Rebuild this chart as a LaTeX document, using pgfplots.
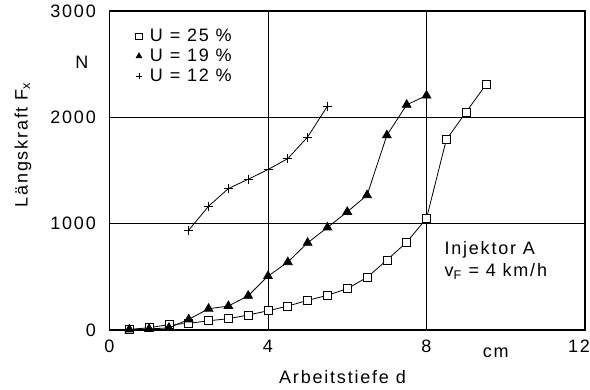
\documentclass[border=0pt]{standalone}
\usepackage{fontspec}
\setmainfont[LetterSpace=10]{Liberation Sans}
\usepackage{pgfplots}
\pgfplotsset{compat=1.18}
\newcommand\F{\fontsize{18bp}{21bp}\selectfont}
\begin{document}
\begin{tikzpicture}
\begin{axis}[
  name=ax,
  scale only axis,
  width=475.5bp, height=319bp,
  xmin=0, xmax=12, ymin=0, ymax=3000,
  xtick={0,4,8,12}, ytick={0,1000,2000,3000},
  xticklabels={0,4,8,12\hspace*{12bp}},
  grid=major,
  clip mode=individual,
  major grid style={black, line width=0.9bp},
  axis line style={black, line width=1.2bp},
  major tick length=0pt,
  /pgf/number format/assume math mode=true,
  /pgf/number format/1000 sep={},
  tick label style={font=\F, inner sep=0pt},
  xticklabel style={anchor=north, yshift=-10bp},
  yticklabel style={anchor=east, xshift=-13.5bp},
  legend style={at={(rel axis cs:0.049,0.947)}, anchor=north west, draw=none, fill=none, font=\F, row sep=4bp, inner sep=0pt,
    nodes={inner sep=1bp}},
  legend cell align=left,
  legend image code/.code={\path[draw=none] (0bp,0bp) -- (16bp,0bp); \draw[#1, mark size=3.2bp] plot coordinates {(6bp,0bp)};},
]
\addplot[black, line width=0.8bp, mark=square*, mark options={fill=white, line width=0.7bp}, mark size=4bp] coordinates {
(0.5,5) (1,22) (1.5,50) (2,62) (2.5,87) (3,106) (3.5,141) (4,181) (4.5,225) (5,279) (5.5,326) (6,388) (6.5,495) (7,657) (7.5,826) (8,1049) (8.5,1790) (9,2050) (9.5,2307)};
\addlegendentry{U = 25 \%}
\addplot[black, line width=0.8bp, mark=triangle*, mark options={fill=black}, mark size=5bp] coordinates {
(0.5,5) (1,10) (1.5,20) (2,100) (2.5,200) (3,225) (3.5,322) (4,507) (4.5,638) (5,820) (5.5,964) (6,1111) (6.5,1268) (7,1831) (7.5,2118) (8,2205)};
\addlegendentry{U = 19 \%}
\addplot[black, line width=0.8bp, mark=+, mark options={line width=0.8bp}, mark size=4.5bp] coordinates {
(2,939) (2.5,1164) (3,1330) (3.5,1418) (4,1509) (4.5,1612) (5,1815) (5.5,2106)};
\addlegendentry{U = 12 \%}
\node[font=\F, anchor=east, inner sep=0pt] at ([xshift=-21bp]rel axis cs:0,0.84) {N};
\node[font=\F, anchor=north, inner sep=0pt] at ([yshift=-18bp]axis cs:9.75,0) {cm};
\node[font=\F, anchor=center] at ([yshift=-47bp]rel axis cs:0.49,0) {Arbeitstiefe d};
\node[font=\F, rotate=90, anchor=center] at ([xshift=-86.5bp]rel axis cs:0,0.58) {Längskraft F\textsubscript{x}};
\node[font=\F, anchor=west, align=left, inner sep=0pt] at (axis cs:8.45,657) {Injektor A\\[1bp]v\textsubscript{F} = 4 km/h};
\end{axis}
\pgfresetboundingbox
\path ([shift={(-109.5bp,-60bp)}]ax.south west) rectangle ([shift={(5bp,11bp)}]ax.north east);
\end{tikzpicture}
\end{document}
